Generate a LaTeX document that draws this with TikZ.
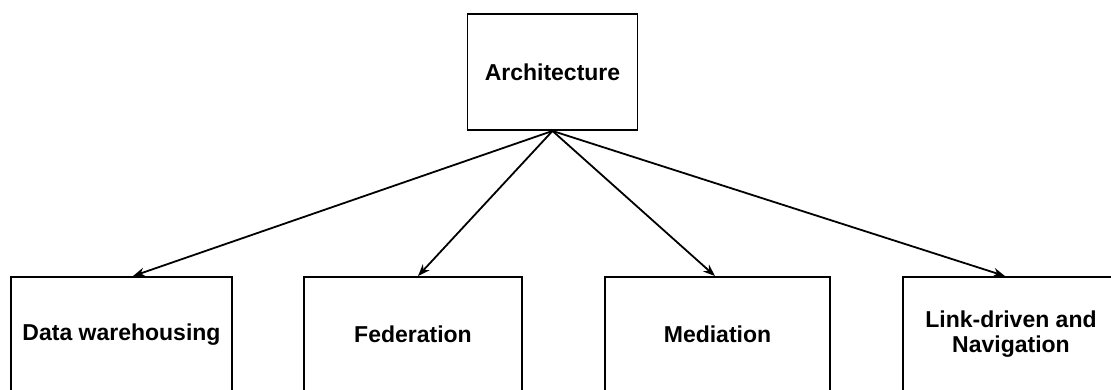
\documentclass[tikz,border=0pt]{standalone}
\usepackage{fontspec}
\setmainfont{Liberation Sans}
\usetikzlibrary{arrows.meta}
\begin{document}
\begin{tikzpicture}[x=1pt,y=-1pt,
  box/.style={draw=black, line width=1.9pt, fill=white, inner sep=0pt,
    minimum height=115pt, align=center,
    font=\fontsize{23pt}{27pt}\selectfont\bfseries},
  link/.style={draw=black, line width=1.8pt,
    -{Stealth[length=12pt,width=9pt]}}
]
\useasboundingbox (0,0) rectangle (1111,390);
\clip (0,0) rectangle (1111,390);
\fill[white] (0,0) rectangle (1111,390);

% top-level node
\node[box, minimum width=170pt, minimum height=116pt] (arch) at (552.5,72) {Architecture};

% second level
\node[box, minimum width=221pt] (dw)  at (121.5,334.5) {Data warehousing};
\node[box, minimum width=218pt] (fed) at (413,334.5)   {Federation};
\node[box, minimum width=225pt] (med) at (717.5,334.5) {Mediation};
\node[box, minimum width=216pt] (lnk) at (1011,334.5)  {Link-driven and\\[-2pt]Navigation};

% connectors from the apex
\draw[link] (arch.south) -- ([xshift=11.5pt]dw.north);
\draw[link] (arch.south) -- ([xshift=5pt]fed.north);
\draw[link] (arch.south) -- ([xshift=-2.5pt]med.north);
\draw[link] (arch.south) -- ([xshift=-6pt]lnk.north);
\end{tikzpicture}
\end{document}
